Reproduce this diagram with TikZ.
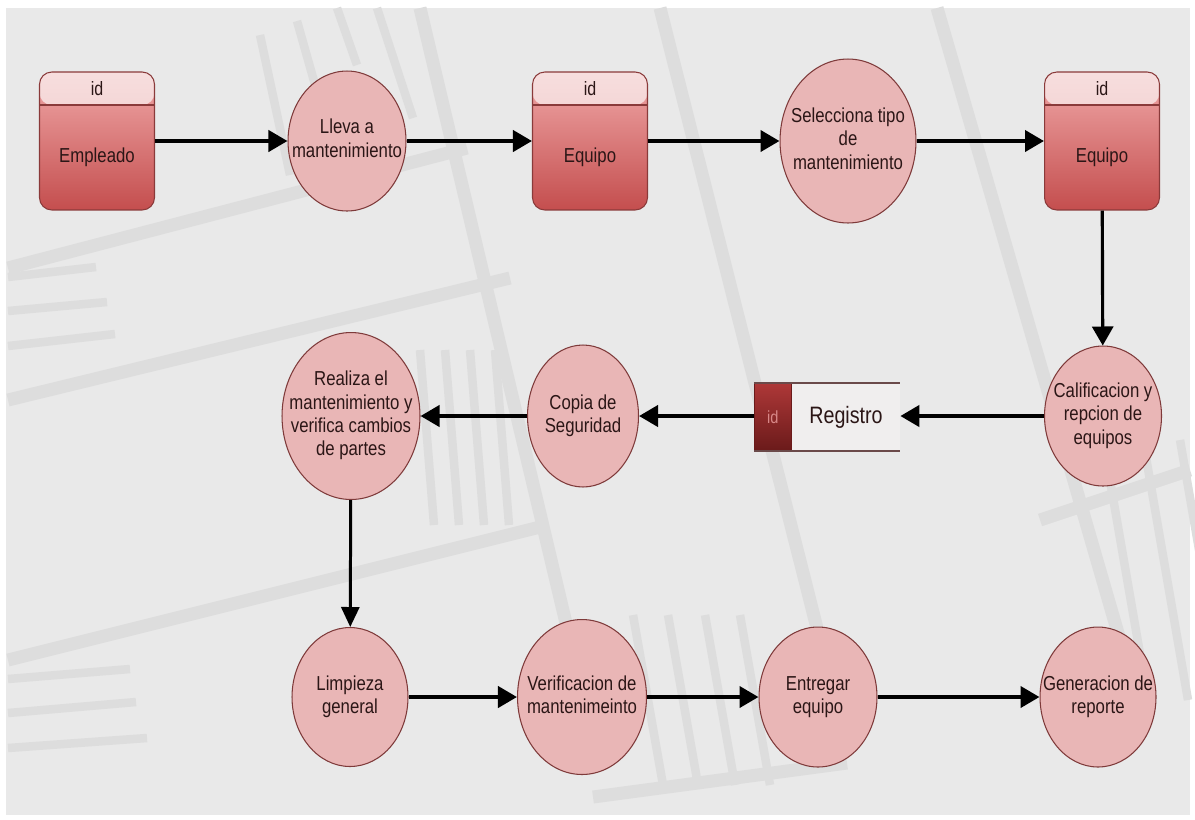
\documentclass[tikz,border=0pt]{standalone}
\usepackage{fontspec}
\setmainfont{Liberation Sans}[FakeStretch=0.83]
\usetikzlibrary{arrows.meta,shapes.geometric,positioning}

\definecolor{pagegrey}{HTML}{E9E9E9}
\definecolor{stripegrey}{HTML}{DDDDDD}
\definecolor{bubblefill}{HTML}{E9B6B6}
\definecolor{bubbleline}{HTML}{7E3A3A}
\definecolor{inktext}{HTML}{2B1616}
\definecolor{boxline}{HTML}{8A3A3A}
\definecolor{boxtop}{HTML}{F0A8A8}
\definecolor{boxbottom}{HTML}{C44E4E}
\definecolor{hdrtop}{HTML}{F7DEDE}
\definecolor{hdrbottom}{HTML}{EDC0C0}
\definecolor{bandtop}{HTML}{AE3838}
\definecolor{bandbottom}{HTML}{6A1A1A}
\definecolor{bandtext}{HTML}{D88888}
\definecolor{regfill}{HTML}{F0EEEE}
\definecolor{regline}{HTML}{6B4A4A}

% text of a bubble takes no width, so the ellipse keeps its own size
\newcommand{\bubbletext}[1]{\makebox[0pt]{\begin{tabular}{@{}c@{}}#1\end{tabular}}}

\tikzset{
  process/.style={ellipse, draw=bubbleline, fill=bubblefill, line width=0.6pt,
    inner sep=0pt, text=inktext,
    font=\fontsize{11.5}{13.3}\selectfont},
  entity/.style={rectangle, rounded corners=7pt, draw=boxline, line width=0.6pt,
    top color=boxtop, bottom color=boxbottom,
    minimum width=2.3cm, minimum height=2.76cm,
    text height=26.5pt, text depth=2.4pt, text=inktext,
    font=\fontsize{11.5}{13}\selectfont,
    path picture={
      \shade[top color=hdrtop, bottom color=hdrbottom]
        (path picture bounding box.north west) rectangle
        ([yshift=-0.66cm]path picture bounding box.north east);
      \draw[boxline, line width=0.6pt]
        ([yshift=-0.66cm]path picture bounding box.north west) --
        ([yshift=-0.66cm]path picture bounding box.north east);
    }},
  idtext/.style={text=inktext, font=\fontsize{11}{12}\selectfont},
  stripe/.style={draw=stripegrey, line width=0.26cm},
  thinstripe/.style={draw=stripegrey, line width=0.17cm},
  flow/.style={-{Triangle[length=0.38cm,width=0.42cm]}, line width=2.3pt},
  drop/.style={-{Triangle[length=0.4cm,width=0.36cm]}, line width=1.7pt},
}

\begin{document}
\begin{tikzpicture}[x=0.02cm, y=-0.02cm]
\useasboundingbox (0,0) rectangle (1195,819);

% Page
\fill[pagegrey] (6,8) rectangle (1190,815);

% Watermark
\draw[stripe] (420,8) -- (570,640);
\draw[stripe] (660,8) -- (820,640);
\draw[stripe] (937,8) -- (1120,640);
\draw[stripe] (8,268) -- (467,148);
\draw[stripe] (8,400) -- (510,278);
\draw[stripe] (8,660) -- (540,527);
\draw[stripe] (593,797) -- (847,763);
\draw[stripe] (1040,520) -- (1190,470);
\draw[thinstripe] (8,277) -- (96,267);
\draw[thinstripe] (8,311) -- (107,302);
\draw[thinstripe] (8,346) -- (115,334);
\draw[thinstripe] (8,679) -- (130,669);
\draw[thinstripe] (8,713) -- (136,702);
\draw[thinstripe] (8,748) -- (147,738);
\draw[thinstripe] (260,35) -- (290,175);
\draw[thinstripe] (297,21) -- (325,120);
\draw[thinstripe] (337,8) -- (357,65);
\draw[thinstripe] (377,8) -- (413,118);
\foreach \sx in {420,445,470,495} {
  \draw[thinstripe] (\sx,350) -- (\sx+14,525);
}
\foreach \sx in {633,668,705,740} {
  \draw[thinstripe] (\sx,615) -- (\sx+30,785);
}
\foreach \sx in {1103,1143,1180} {
  \draw[thinstripe] (\sx,440) -- (\sx+45,700);
}

% Top row
\node[entity] (empleado) at (97,141) {Empleado};
\node[idtext] (empleadoid) at (97,89) {id};

\node[process, minimum width=2.36cm, minimum height=2.8cm] (lleva) at (347,141)
{\bubbletext{Lleva a\\mantenimiento}};

\node[entity] (equipoa) at (590,141) {Equipo};
\node[idtext] (equipoaid) at (590,89) {id};

\node[process, minimum width=2.72cm, minimum height=3.28cm] (selecciona) at (848,141)
{\bubbletext{Selecciona tipo\\de\\mantenimiento}};

\node[entity] (equipob) at (1102,141) {Equipo};
\node[idtext] (equipobid) at (1102,89) {id};

% Middle row
\node[process, minimum width=2.34cm, minimum height=2.8cm] (calificacion) at (1103,416)
{\bubbletext{Calificacion y\\repcion de\\equipos}};

\node[rectangle, fill=regfill, minimum width=2.16cm, minimum height=1.36cm,
  inner sep=0pt, text=inktext, font=\fontsize{13.5}{14}\selectfont]
  (registro) at (846,417) {Registro};
\node[rectangle, draw=bandbottom, top color=bandtop, bottom color=bandbottom,
  minimum width=0.74cm, minimum height=1.36cm, inner sep=0pt,
  text=bandtext, font=\fontsize{10}{11}\selectfont, left=0pt of registro]
  (registroid) {id};
\draw[regline, line width=1pt] (registroid.north west) -- (registro.north east);
\draw[regline, line width=1pt] (registroid.south west) -- (registro.south east);

\node[process, minimum width=2.22cm, minimum height=2.84cm] (copia) at (583,416)
{\bubbletext{Copia de\\Seguridad}};

\node[process, minimum width=2.76cm, minimum height=3.34cm] (realiza) at (351,416)
{\bubbletext{Realiza el\\mantenimiento y\\verifica cambios\\de partes}};

% Bottom row
\node[process, minimum width=2.32cm, minimum height=2.78cm] (limpieza) at (350,697)
{\bubbletext{Limpieza\\general}};

\node[process, minimum width=2.58cm, minimum height=3.1cm] (verificacion) at (582,697)
{\bubbletext{Verificacion de\\mantenimeinto}};

\node[process, minimum width=2.36cm, minimum height=2.8cm] (entregar) at (818,697)
{\bubbletext{Entregar\\equipo}};

\node[process, minimum width=2.32cm, minimum height=2.8cm] (generacion) at (1098,697)
{\bubbletext{Generacion de\\reporte}};

% Flows
\draw[flow] (empleado) -- (lleva);
\draw[flow] (lleva) -- (equipoa);
\draw[flow] (equipoa) -- (selecciona);
\draw[flow] (selecciona) -- (equipob);
\draw[flow, line width=1.8pt] (equipob) -- (calificacion);
\draw[flow] (calificacion) -- (registro.east |- calificacion);
\draw[flow] (registroid.west |- copia) -- (copia);
\draw[flow] (copia) -- (realiza);
\draw[drop] (realiza) -- (limpieza);
\draw[flow] (limpieza) -- (verificacion);
\draw[flow] (verificacion) -- (entregar);
\draw[flow] (entregar) -- (generacion);
\end{tikzpicture}
\end{document}
